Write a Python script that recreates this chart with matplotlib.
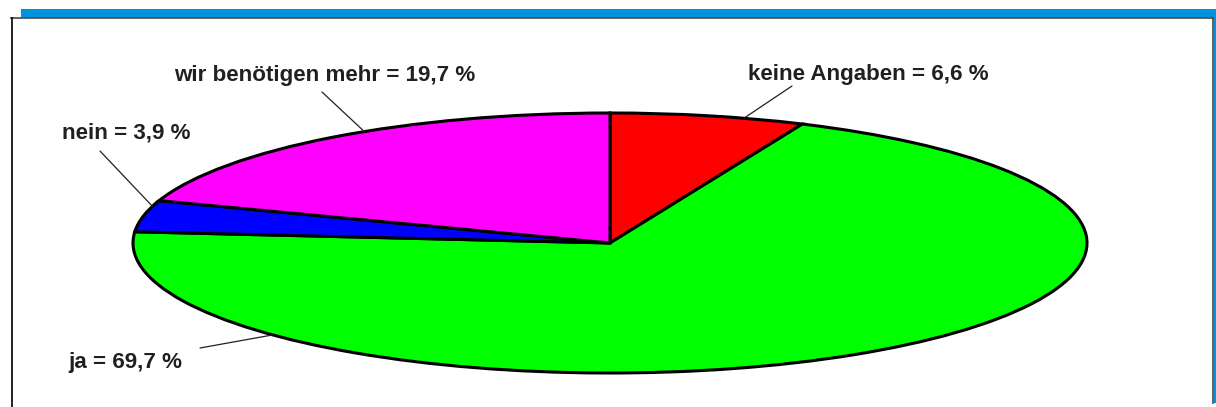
import numpy as np
import matplotlib
matplotlib.use("Agg")
import matplotlib.pyplot as plt
from matplotlib.patches import Rectangle
from matplotlib.lines import Line2D

# data, clockwise from 12 o'clock
labels = ["keine Angaben", "ja", "nein", "wir benötigen mehr"]
values = [6.6, 69.7, 3.9, 19.7]
colors = ["#ff0000", "#00ff00", "#0000ff", "#ff00ff"]

W, H = 1216, 407
fig = plt.figure(figsize=(W / 100, H / 100), dpi=100)

# background axes in pixel coords (image style, y down) for the frame
bg = fig.add_axes([0, 0, 1, 1])
bg.set_xlim(0, W)
bg.set_ylim(H, 0)
bg.axis("off")
bg.add_patch(Rectangle((21, 9), W - 21, 8.5, color="#0093dd", lw=0))
bg.add_line(Line2D([11, 1213], [17.8, 17.8], color="#555555", lw=1.3))
bg.add_line(Line2D([11.5, 11.5], [17.5, H], color="#111111", lw=1.3))
bg.add_line(Line2D([1213, 1213], [17.5, 403], color="#444444", lw=1.2))
bg.add_patch(Rectangle((1214, 9), 2, 394, color="#0093dd", lw=0))

# flattened pie: axes box = bounding box of the ellipse
cx, cy, rx, ry = 610, 243, 477, 130
ax = fig.add_axes([(cx - rx) / W, (H - cy - ry) / H, 2 * rx / W, 2 * ry / H])
wedges, _ = ax.pie(values, colors=colors, startangle=90, counterclock=False,
                   radius=1, wedgeprops=dict(edgecolor="black", linewidth=2.2))
for w in wedges:
    w.set_clip_on(False)
ax.set_aspect("auto")
ax.set_xlim(-1, 1)
ax.set_ylim(-1, 1)
ax.axis("off")

# label text: (left x, baseline y) in image pixels, leader start, angle on rim
label_pos = {
    "keine Angaben": ((748, 80), (792, 86), 73.7),
    "ja": ((68, 368), (200, 348), 225),
    "nein": ((62, 138), (100, 151), 163.6),
    "wir benötigen mehr": ((174, 81), (322, 92), 121),
}

for lab, val in zip(labels, values):
    (tx, ty), (lx, ly), ang = label_pos[lab]
    txt = f"{lab} = {val:.1f} %".replace(".", ",")
    fig.text(tx / W, 1 - ty / H, txt, ha="left", va="baseline",
             fontsize=16.1, fontweight="bold", family="Liberation Sans",
             color="#231f20")
    a = np.deg2rad(ang)
    ax.annotate("", xy=(np.cos(a), np.sin(a)), xycoords="data",
                xytext=(lx, H - ly), textcoords="figure pixels",
                arrowprops=dict(arrowstyle="-", color="#231f20", lw=0.9,
                                shrinkA=0, shrinkB=0),
                annotation_clip=False)

fig.savefig("out.png", dpi=100)
